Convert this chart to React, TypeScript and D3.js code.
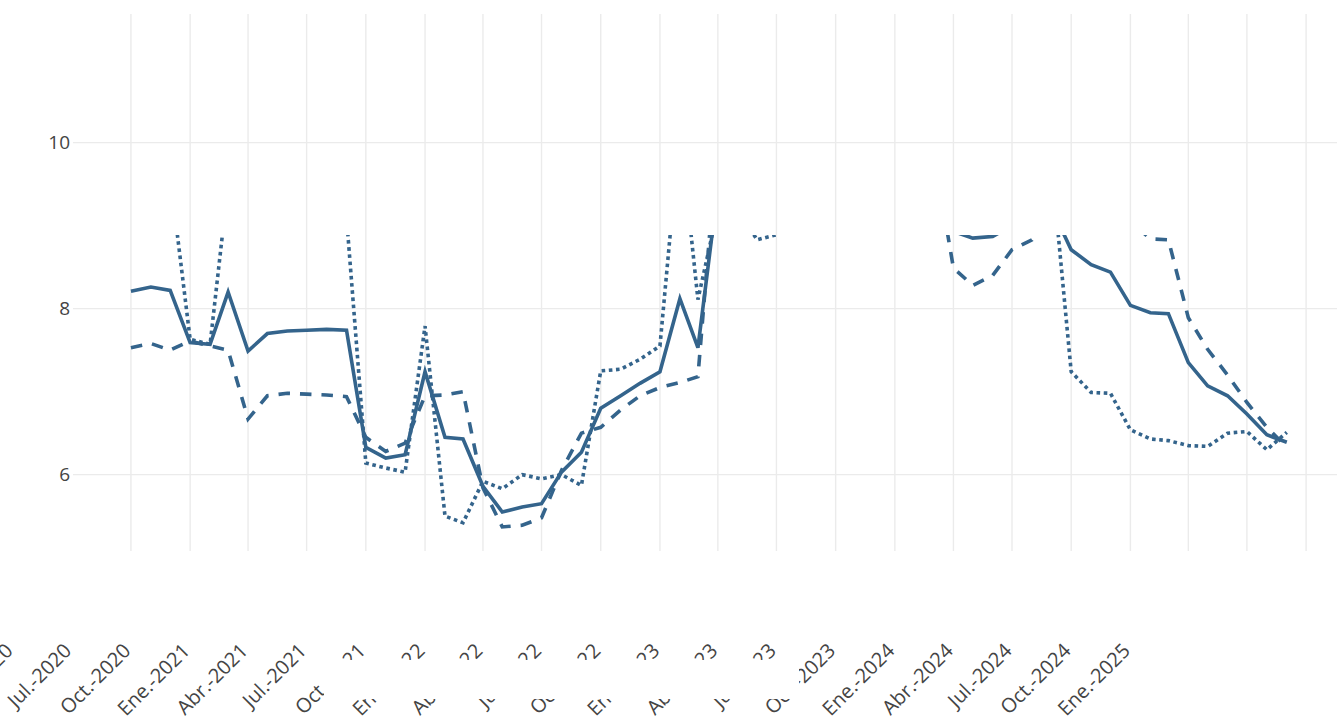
import React from "react";
import * as d3 from "d3";

// Monthly observations, Oct 2020 .. Sep 2025
const startMonth = new Date(Date.UTC(2020, 9, 1));
const endMonth = new Date(Date.UTC(2025, 9, 1));
const months: Date[] = d3.utcMonth.range(startMonth, endMonth);

const solidSeries: number[] = [
  8.21, 8.26, 8.22, 7.59, 7.57, 8.2, 7.49, 7.7, 7.73, 7.74, 7.75, 7.74,
  6.33, 6.2, 6.24, 7.24, 6.45, 6.43, 5.86, 5.55, 5.61, 5.65, 6.03, 6.27,
  6.8, 6.95, 7.1, 7.24, 8.12, 7.53, 9.45, 9.8, 10.1, 10.3, 10.2, 10.4,
  10.5, 10.3, 10.1, 9.9, 9.6, 9.3, 8.93, 8.85, 8.87, 9.0, 9.25, 9.2,
  8.71, 8.53, 8.44, 8.04, 7.95, 7.94, 7.35, 7.07, 6.95, 6.73, 6.48, 6.39,
];

const dashedSeries: number[] = [
  7.53, 7.58, 7.5, 7.61, 7.55, 7.5, 6.67, 6.95, 6.98, 6.97, 6.96, 6.94,
  6.45, 6.28, 6.38, 6.95, 6.96, 7.0, 5.84, 5.37, 5.39, 5.48, 6.05, 6.5,
  6.57, 6.78, 6.95, 7.05, 7.11, 7.18, 10.1, 10.4, 10.6, 10.5, 10.7, 10.6,
  10.4, 10.5, 10.3, 10.2, 10.0, 9.9, 8.49, 8.28, 8.4, 8.71, 8.83, 9.2,
  9.5, 9.6, 9.4, 9.05, 8.84, 8.83, 7.89, 7.51, 7.2, 6.87, 6.57, 6.33,
];

const dottedSeries: number[] = [
  9.9, 10.2, 9.6, 7.63, 7.57, 9.5, 10.0, 10.3, 10.1, 10.4, 10.0, 9.1,
  6.14, 6.08, 6.03, 7.79, 5.5, 5.42, 5.92, 5.83, 6.0, 5.95, 6.0, 5.87,
  7.25, 7.27, 7.39, 7.55, 10.17, 8.11, 9.2, 9.2, 8.83, 8.89, 9.3, 9.6,
  9.8, 10.0, 10.1, 9.9, 9.8, 9.6, 9.5, 9.7, 9.9, 10.1, 10.0, 9.7,
  7.24, 6.99, 6.98, 6.54, 6.43, 6.41, 6.35, 6.34, 6.5, 6.52, 6.3, 6.51,
];

// Axis ticks
const xTickDates: Date[] = d3.utcMonth.every(3)!.range(
  new Date(Date.UTC(2020, 3, 1)),
  new Date(Date.UTC(2025, 1, 1))
);
const xTickLabels: string[] = [
  "Abr.-2020", "Jul.-2020", "Oct.-2020", "Ene.-2021", "Abr.-2021", "Jul.-2021",
  "Oct.-2021", "Ene.-2022", "Abr.-2022", "Jul.-2022", "Oct.-2022", "Ene.-2023",
  "Abr.-2023", "Jul.-2023", "Oct.-2023", "Ene.-2024", "Abr.-2024", "Jul.-2024",
  "Oct.-2024", "Ene.-2025",
];
const xGridDates: Date[] = d3.utcMonth.every(3)!.range(
  new Date(Date.UTC(2020, 9, 1)),
  new Date(Date.UTC(2025, 10, 1))
);
const yTicks: number[] = [6, 8, 10];

const W = 1337;
const H = 720;
const LEFT = 73;
const RIGHT = 1337;
const TOP = 14;
const BOTTOM = 551;
const LINE_COLOR = "#34648c";
const FONT = "'Open Sans', verdana, arial, sans-serif";

export default function App() {
  const x = d3
    .scaleUtc()
    .domain([new Date(Date.UTC(2020, 6, 3)), new Date(Date.UTC(2025, 10, 18))])
    .range([LEFT, RIGHT]);
  const y = d3.scaleLinear().domain([5.08, 11.55]).range([BOTTOM, TOP]);

  const lineGen = d3
    .line<number>()
    .x((_, i) => x(months[i]))
    .y((d) => y(d));

  const series = [
    { values: dashedSeries, dash: "11.5,10" },
    { values: dottedSeries, dash: "3.6,3.6" },
    { values: solidSeries, dash: undefined as string | undefined },
  ];

  return (
    <svg
      width={W}
      height={H}
      style={{ position: "absolute", left: 0, top: 0, background: "#fff" }}
    >
      <defs>
        <clipPath id="lineclip">
          <rect x={LEFT} y={235} width={RIGHT - LEFT} height={BOTTOM - 235} />
        </clipPath>
      </defs>
      <rect x={0} y={0} width={W} height={H} fill="#fff" />
      {/* grid */}
      {xGridDates.map((d, i) => (
        <line
          key={"gx" + i}
          x1={x(d)}
          x2={x(d)}
          y1={TOP}
          y2={BOTTOM}
          stroke="#ebebeb"
          strokeWidth={1.4}
        />
      ))}
      {yTicks.map((t) => (
        <line
          key={"gy" + t}
          x1={LEFT}
          x2={RIGHT}
          y1={y(t)}
          y2={y(t)}
          stroke="#ebebeb"
          strokeWidth={1.4}
        />
      ))}
      {/* y labels */}
      {yTicks.map((t) => (
        <text
          key={"ty" + t}
          x={70}
          y={y(t)}
          dy="0.36em"
          textAnchor="end"
          fontFamily={FONT}
          fontSize={19}
          fill="#444"
        >
          {t}
        </text>
      ))}
      {/* lines */}
      <g clipPath="url(#lineclip)">
        {series.map((s, i) => (
          <path
            key={"s" + i}
            d={lineGen(s.values) || ""}
            fill="none"
            stroke={LINE_COLOR}
            strokeWidth={3.6}
            strokeDasharray={s.dash}
            strokeLinejoin="miter"
          />
        ))}
      </g>
      {/* x labels */}
      {xTickDates.map((d, i) => (
        <text
          key={"tx" + i}
          transform={`translate(${x(d) + 1},${652}) rotate(-45)`}
          textAnchor="end"
          fontFamily={FONT}
          fontSize={20}
          fill="#444"
        >
          {xTickLabels[i]}
        </text>
      ))}
      {/* white band over part of the labels */}
      <rect x={324} y={660} width={475} height={39} fill="#fff" />
    </svg>
  );
}
